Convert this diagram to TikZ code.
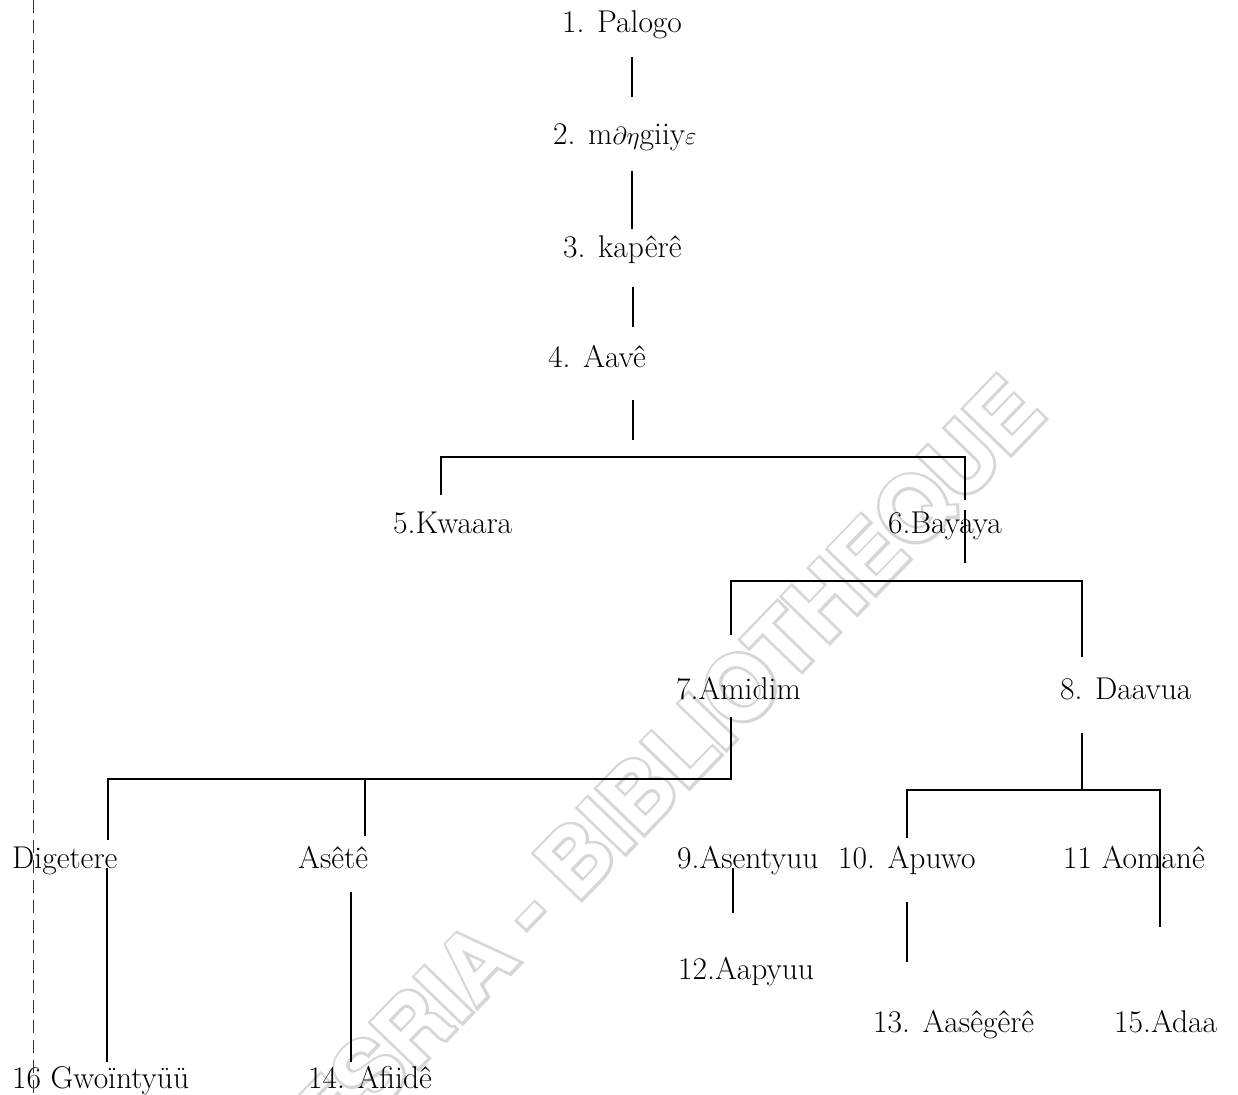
\documentclass[tikz,border=0pt]{standalone}
\usepackage{fontspec}
\newfontfamily\wmfont{texgyreheros-bold.otf}
\newfontfamily\wmoutline{texgyreheros-bold.otf}[FakeBold=6]
\begin{document}
\begin{tikzpicture}[x=1pt,y=-1pt,
  lbl/.style={anchor=base west,inner sep=0pt,font=\rmfamily\fontsize{31.5}{36}\selectfont},
  link/.style={line width=1.6pt,black},
  wmark/.style={rotate=46,inner sep=0pt},
  margin/.style={line width=1pt,black!80,dash pattern=on 13pt off 7pt}]
\useasboundingbox (0,0) rectangle (1238,1094);
% watermark (outlined letters)
\node[wmark,text=black!16,font=\wmoutline\fontsize{90}{100}\selectfont] (wm) at (597,838) {CODESRIA - BIBLIOTHEQUE};
\node[wmark,text=white,font=\wmfont\fontsize{90}{100}\selectfont] (wm2) at (597,838) {CODESRIA - BIBLIOTHEQUE};
% labels
\node[lbl] (n1) at (562,33) {1. Palogo};
\node[lbl] (n2) at (553,145) {2. m$\partial\eta$giiy$\varepsilon$};
\node[lbl] (n3) at (563,257) {3. kapêrê};
\node[lbl] (n4) at (548,367) {4. Aavê};
\node[lbl] (n5) at (393,533) {5.Kwaara};
\node[lbl] (n6) at (888,533) {6.Bayaya};
\node[lbl] (n7) at (676,699) {7.Amidim};
\node[lbl] (n8) at (1060,699) {8. Daavua};
\node[lbl] (dg) at (12,868) {Digetere};
\node[lbl] (as) at (298,868) {Asêtê};
\node[lbl] (n9) at (677,868) {9.Asentyuu};
\node[lbl] (n10) at (838,868) {10. Apuwo};
\node[lbl] (n11) at (1063,868) {11 Aomanê};
\node[lbl] (n12) at (678,979) {12.Aapyuu};
\node[lbl] (n13) at (873,1032) {13. Aasêgêrê};
\node[lbl] (n15) at (1114,1032) {15.Adaa};
\node[lbl] (n16) at (12,1088) {16 Gwoïntyüü};
\node[lbl] (n14) at (308,1088) {14. Afiidê};
% connector end points
\coordinate (a1) at (632,57);  \coordinate (b1) at (632,97);
\coordinate (a2) at (632,171); \coordinate (b2) at (632,229);
\coordinate (a3) at (633,287); \coordinate (b3) at (633,327);
\coordinate (a4) at (633,400); \coordinate (b4) at (633,440);
\coordinate (k5) at (441,495); \coordinate (h5) at (441,457);
\coordinate (h6) at (965,457); \coordinate (k6) at (965,500);
\coordinate (a6) at (965,510); \coordinate (b6) at (965,563);
\coordinate (k7) at (731,635); \coordinate (h7) at (731,581);
\coordinate (h8) at (1082,581); \coordinate (k8) at (1082,657);
\coordinate (a7) at (731,717); \coordinate (b7) at (731,779);
\coordinate (hd) at (108,779); \coordinate (kd) at (108,840);
\coordinate (ha) at (365,779); \coordinate (ka) at (365,836);
\coordinate (a9) at (733,868); \coordinate (b9) at (733,913);
\coordinate (a8) at (1082,733); \coordinate (b8) at (1082,790);
\coordinate (h10) at (907,790); \coordinate (k10) at (907,838);
\coordinate (h11) at (1160,790); \coordinate (k11) at (1160,927);
\coordinate (a10) at (907,902); \coordinate (b10) at (907,962);
\coordinate (ad) at (107,868); \coordinate (bd) at (107,1062);
\coordinate (aa) at (351,892); \coordinate (ba) at (351,1062);
\coordinate (mtop) at (33,0); \coordinate (mbot) at (33,1094);
% connectors
\draw[link] (a1) -- (b1);
\draw[link] (a2) -- (b2);
\draw[link] (a3) -- (b3);
\draw[link] (a4) -- (b4);
\draw[link] (k5) -- (h5) -- (h6) -- (k6);
\draw[link] (a6) -- (b6);
\draw[link] (k7) -- (h7) -- (h8) -- (k8);
\draw[link] (a7) -- (b7) -- (hd) -- (kd);
\draw[link] (ha) -- (ka);
\draw[link] (a9) -- (b9);
\draw[link] (a8) -- (b8);
\draw[link] (k10) -- (h10) -- (h11) -- (k11);
\draw[link] (a10) -- (b10);
\draw[link] (ad) -- (bd);
\draw[link] (aa) -- (ba);
\draw[margin] (mtop) -- (mbot);
\end{tikzpicture}
\end{document}
